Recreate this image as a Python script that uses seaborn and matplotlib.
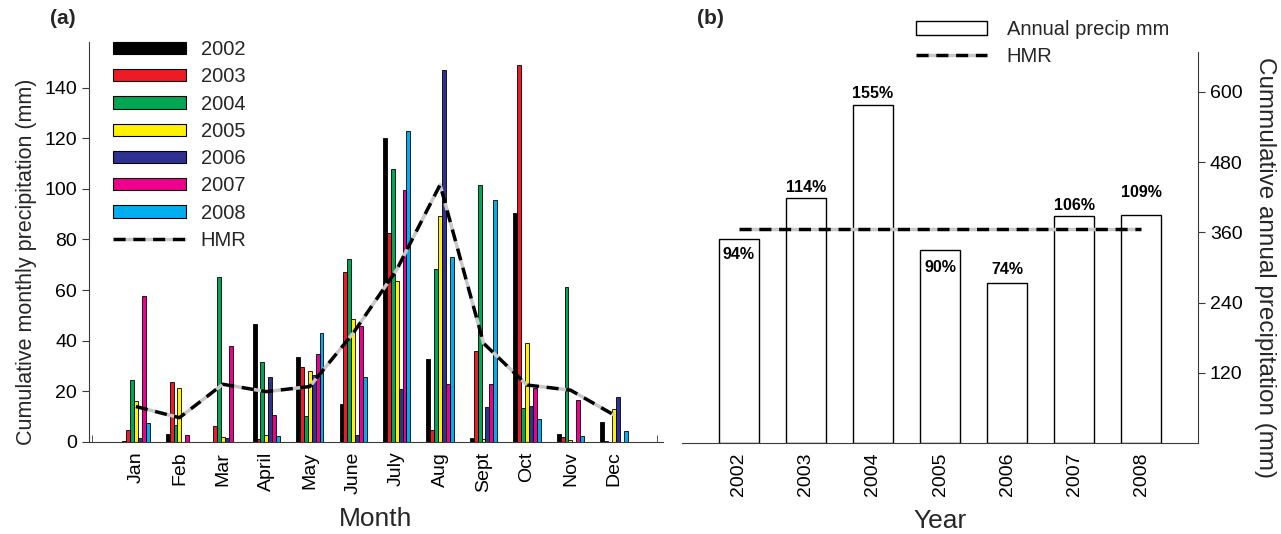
import matplotlib
matplotlib.use("Agg")
import matplotlib.pyplot as plt
import seaborn as sns
import numpy as np
import pandas as pd
from matplotlib.patches import Patch
from matplotlib.lines import Line2D

# ---------------- data ----------------
months = ["Jan", "Feb", "Mar", "April", "May", "June", "July", "Aug", "Sept", "Oct", "Nov", "Dec"]
years = ["2002", "2003", "2004", "2005", "2006", "2007", "2008"]

p2002 = [0.5, 3.2, 0.0, 46.5, 33.5, 15.1, 120.0, 32.7, 1.5, 90.6, 3.0, 7.8]
p2003 = [4.7, 23.8, 6.2, 1.0, 29.5, 67.0, 82.5, 4.7, 36.0, 149.0, 1.8, 0.5]
p2004 = [24.6, 6.6, 65.2, 31.5, 10.3, 72.2, 107.8, 68.3, 101.5, 13.6, 61.1, 0.0]
p2005 = [16.1, 21.5, 1.9, 2.6, 28.2, 48.5, 63.4, 89.3, 1.0, 39.0, 0.8, 13.0]
p2006 = [1.5, 0.0, 1.7, 25.7, 26.4, 2.6, 20.8, 147.0, 14.0, 14.2, 0.0, 17.7]
p2007 = [57.8, 2.9, 37.8, 10.7, 34.7, 45.8, 99.6, 23.0, 23.0, 21.5, 16.6, 0.0]
p2008 = [7.4, 0.0, 0.0, 2.2, 43.0, 25.8, 123.0, 73.0, 95.7, 9.0, 2.4, 4.3]
monthly = [p2002, p2003, p2004, p2005, p2006, p2007, p2008]

hmr_monthly = [14.0, 9.6, 22.8, 19.9, 21.9, 43.0, 68.0, 101.6, 39.0, 22.5, 20.5, 10.7]

annual = [349, 418, 577, 329, 274, 387, 389]
hmr_annual = 365.6
pct_labels = ["94%", "114%", "155%", "90%", "74%", "106%", "109%"]

year_colors = ["#000000", "#ED1C24", "#00A651", "#FFF200", "#2E3192", "#EC008C", "#00AEEF"]

# ---------------- style ----------------
sns.set_style("ticks")
plt.rcParams["font.family"] = ["Liberation Sans", "DejaVu Sans"]
plt.rcParams["axes.edgecolor"] = "#3a3a3a"
plt.rcParams["xtick.color"] = "#3a3a3a"
plt.rcParams["ytick.color"] = "#3a3a3a"
plt.rcParams["xtick.labelcolor"] = "black"
plt.rcParams["ytick.labelcolor"] = "black"

HMR_LS = (0, (3.5, 2.2))
HMR_GAP = "#c8c8c8"
HMR_LW = 2.5

W, H = 1281, 534
fig = plt.figure(figsize=(W / 100, H / 100), dpi=100)

def fx(px):
    return px / W

def fy(py):
    return 1 - py / H

# ---------------- panel (a) ----------------
ax1 = fig.add_axes([fx(89), fy(442), fx(663) - fx(89), fy(42) - fy(442)])
rows = []
for yr, vals in zip(years, monthly):
    for m, v in zip(months, vals):
        rows.append({"Month": m, "Year": yr, "Precip": v})
df_m = pd.DataFrame(rows)

sns.barplot(data=df_m, x="Month", y="Precip", hue="Year", order=months,
            hue_order=years, palette=year_colors, width=0.63, saturation=1,
            edgecolor="black", linewidth=0.6, errorbar=None, legend=False, ax=ax1)

xpos = np.arange(len(months))
sns.lineplot(x=xpos, y=hmr_monthly, color="black", linewidth=HMR_LW, ax=ax1,
             legend=False)
ax1.lines[-1].set_linestyle(HMR_LS)
ax1.lines[-1].set_gapcolor(HMR_GAP)

ax1.set_xlim(-1.08, 12.13)
ax1.set_ylim(0, 158)
ax1.set_yticks([0, 20, 40, 60, 80, 100, 120, 140])
ax1.set_xticks(xpos)
ax1.set_xticklabels(months, rotation=90)
ax1.set_xticks([-1, 12], minor=True)
ax1.tick_params(axis="x", which="major", length=0, labelsize=14, pad=7)
ax1.tick_params(axis="x", which="minor", direction="in", length=5)
ax1.tick_params(axis="y", direction="out", length=5, labelsize=14)
ax1.set_xlabel("Month", fontsize=19, labelpad=9)
ax1.set_ylabel("Cumulative monthly precipitation (mm)", fontsize=15.5, labelpad=5)
ax1.yaxis.label.set_y(0.45)
sns.despine(ax=ax1)

handles1 = [Patch(facecolor=c, edgecolor="black", linewidth=0.8) for c in year_colors]
hmr_handle = Line2D([], [], color="black", linewidth=HMR_LW, linestyle=HMR_LS,
                    gapcolor=HMR_GAP)
handles1.append(hmr_handle)
fig.legend(handles1, years + ["HMR"], loc="upper left",
           bbox_to_anchor=(fx(103), fy(30)), bbox_transform=fig.transFigure,
           frameon=False, fontsize=14.5, handlelength=3.6, handleheight=0.55,
           handletextpad=0.75, labelspacing=0.41, borderpad=0)

fig.text(fx(50), fy(18), "(a)", fontsize=15, fontweight="bold", va="center")

# ---------------- panel (b) ----------------
ax2 = fig.add_axes([fx(682), fy(443), fx(1198) - fx(682), fy(52) - fy(443)])
df_a = pd.DataFrame({"Year": years, "Annual": annual})
sns.barplot(data=df_a, x="Year", y="Annual", order=years, color="white",
            saturation=1, width=0.59, edgecolor="black", linewidth=1.0,
            errorbar=None, ax=ax2)
ypos = np.arange(len(years))
sns.lineplot(x=ypos, y=[hmr_annual] * len(years), color="black", linewidth=HMR_LW,
             ax=ax2, legend=False)
ax2.lines[-1].set_linestyle(HMR_LS)
ax2.lines[-1].set_gapcolor(HMR_GAP)

ax2.set_xlim(-0.85, 6.85)
ax2.set_ylim(0, 668)
ax2.yaxis.tick_right()
ax2.yaxis.set_label_position("right")
ax2.set_yticks([120, 240, 360, 480, 600])
ax2.set_xticks(ypos)
ax2.set_xticklabels(years, rotation=90)
ax2.tick_params(axis="x", direction="in", length=5, labelsize=14, pad=7)
ax2.tick_params(axis="y", direction="out", length=5, labelsize=14)
ax2.set_xlabel("Year", fontsize=19, labelpad=9)
ax2.set_ylabel("Cummulative annual precipitation (mm)", fontsize=17.5,
               rotation=270, va="bottom", labelpad=8)
ax2.yaxis.label.set_y(0.45)
for s in ["left", "top"]:
    ax2.spines[s].set_visible(False)

# percentage labels (offsets in pixels, converted to points)
offsets_px = [-16, 11, 12, -17, 13, 11, 23]
for i, (v, lab, off) in enumerate(zip(annual, pct_labels, offsets_px)):
    ax2.annotate(lab, xy=(i, v), xytext=(0, off * 0.72), textcoords="offset points",
                 ha="center", va="center", fontsize=11.5, fontweight="bold",
                 color="black")

handles2 = [Patch(facecolor="white", edgecolor="black", linewidth=1.0), hmr_handle]
fig.legend(handles2, ["Annual precip mm", "HMR"], loc="upper left",
           bbox_to_anchor=(fx(906), fy(10)), bbox_transform=fig.transFigure,
           frameon=False, fontsize=14.5, handlelength=3.5, handleheight=0.65,
           handletextpad=1.0, labelspacing=0.41, borderpad=0)

fig.text(fx(697), fy(18), "(b)", fontsize=15, fontweight="bold", va="center")

fig.savefig("out.png", dpi=100)
